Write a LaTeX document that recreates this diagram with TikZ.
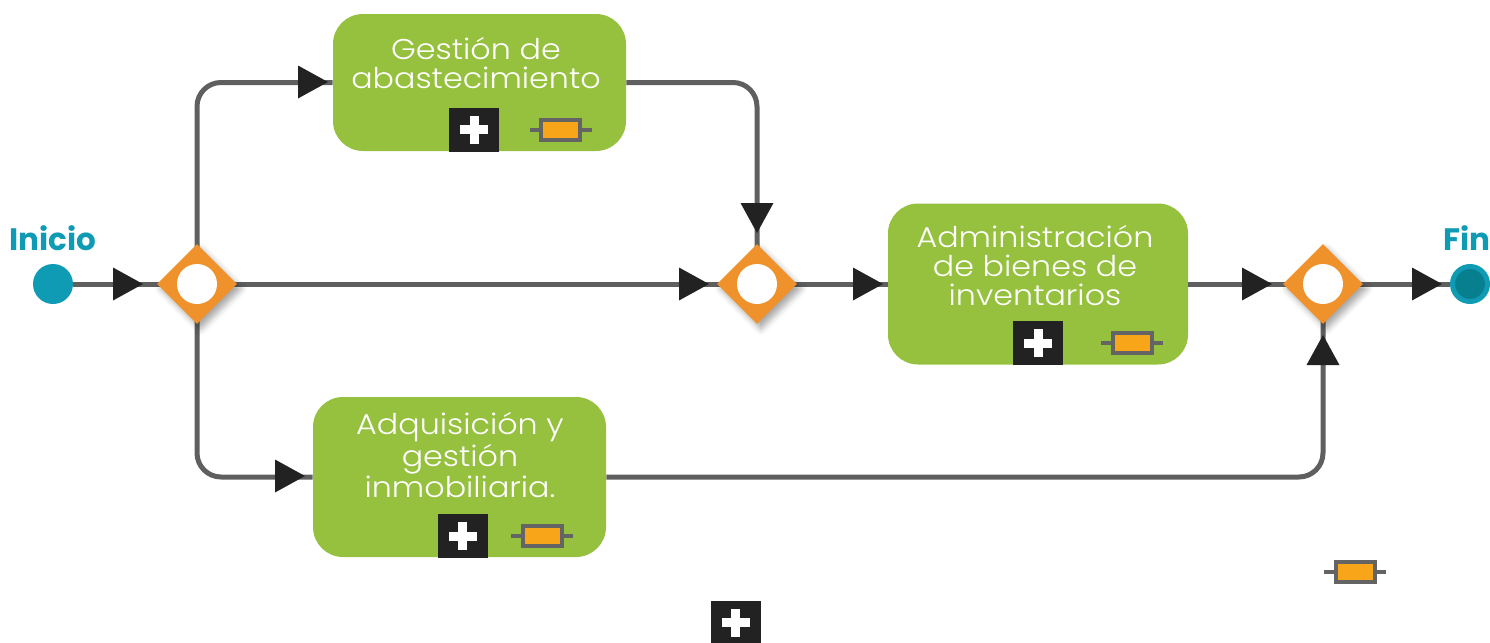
\documentclass[tikz,border=0pt]{standalone}
\usepackage{fontspec}
\setmainfont{Poppins}
\newfontfamily\lightfont{Poppins Light}[FakeStretch=1.11]
\usetikzlibrary{shapes.geometric,shadows.blur}
\definecolor{bpmgreen}{HTML}{96C13E}
\definecolor{bpmteal}{HTML}{0E9BB3}
\definecolor{bpmtealdark}{HTML}{087F8E}
\definecolor{bpmorange}{HTML}{F0922B}
\definecolor{bpmgray}{HTML}{5F5F5F}
\definecolor{bpmblack}{HTML}{222222}
\definecolor{mkorange}{HTML}{F9A51A}
\definecolor{mkgray}{HTML}{646464}
\tikzset{
  flow/.style={draw=bpmgray,line width=2.5pt,rounded corners=12pt},
  startev/.style={circle,fill=bpmteal,minimum size=20pt,inner sep=0pt},
  endev/.style={circle,fill=bpmtealdark,draw=bpmteal,line width=2.5pt,minimum size=17.5pt,inner sep=0pt},
  gw/.style={diamond,aspect=1,fill=bpmorange,minimum width=40pt,minimum height=40pt,inner sep=0pt,
    blur shadow={shadow xshift=2pt,shadow yshift=-2.5pt,shadow blur radius=3pt,shadow opacity=35}},
  gwc/.style={circle,fill=white,minimum size=20pt,inner sep=0pt},
  task/.style={rectangle,rounded corners=15pt,fill=bpmgreen,inner sep=0pt},
  tasktext/.style={text=white,align=center,font=\lightfont\fontsize{14.3}{14.5}\selectfont},
  evlabel/.style={text=bpmteal,font=\bfseries\fontsize{15.5}{17}\selectfont},
  arrowR/.pic={\fill[bpmblack] (0,0) -- (-30,-16.5) -- (-30,16.5) -- cycle;},
  arrowD/.pic={\fill[bpmblack] (0,0) -- (-16.5,-30) -- (16.5,-30) -- cycle;},
  arrowU/.pic={\fill[bpmblack] (0,0) -- (-16.5,30) -- (16.5,30) -- cycle;},
  plusbox/.pic={\fill[bpmblack] (-25,-22) rectangle (25,22);
    \fill[white] (-14,-4.5) rectangle (14,4.5);
    \fill[white] (-4.5,-14) rectangle (4.5,14);},
  marker/.pic={\draw[mkgray,line width=2pt] (-31,0) -- (-21,0) (21,0) -- (31,0);
    \fill[mkgray] (-21.5,-12) rectangle (21.5,12);
    \fill[mkorange] (-17.5,-8) rectangle (17.5,8);}
}
\begin{document}
\begin{tikzpicture}[x=0.5pt,y=-0.5pt]
\useasboundingbox (0,0) rectangle (1490,643);
% events
\node[startev] (ini) at (53,284) {};
\node[endev] (fin) at (1470,284) {};
\node[evlabel] (inilbl) at (53,238) {Inicio};
\node[evlabel] (finlbl) at (1467,238) {Fin};
% tasks
\node[task,minimum width=146.5pt,minimum height=68.5pt] (t1) at (479.5,82.5) {};
\node[task,minimum width=150pt,minimum height=80.5pt] (t3) at (1038,284) {};
\node[task,minimum width=146.5pt,minimum height=80pt] (t2) at (459.5,477) {};
\node[tasktext] (t1txt) at (476,63) {Gestión de\\abastecimiento};
\node[tasktext] (t3txt) at (1035,266) {Administración\\de bienes de\\inventarios};
\node[tasktext] (t2txt) at (460,455) {Adquisición y\\gestión\\inmobiliaria.};
% connectors
\draw[flow] (ini) -- (197,284);
\draw[flow] (197,284) -- (757,284);
\draw[flow] (197,284) |- (t1.west);
\draw[flow] (t1.east) -| (757,284);
\draw[flow] (197,284) |- (t2.west);
\draw[flow] (t2.east) -| (1323,284);
\draw[flow] (757,284) -- (t3.west);
\draw[flow] (t3.east) -- (1323,284);
\draw[flow] (1323,284) -- (fin);
% gateways
\node[gw] (g1) at (197,284) {};
\node[gwc] (g1c) at (g1) {};
\node[gw] (g2) at (757,284) {};
\node[gwc] (g2c) at (g2) {};
\node[gw] (g3) at (1323,284) {};
\node[gwc] (g3c) at (g3) {};
% arrowheads
\pic at (143,284) {arrowR};
\pic at (709,284) {arrowR};
\pic at (883,284) {arrowR};
\pic at (1272,284) {arrowR};
\pic at (1442,284) {arrowR};
\pic at (328,82) {arrowR};
\pic at (305,476) {arrowR};
\pic at (757,233) {arrowD};
\pic at (1323,335) {arrowU};
% icons
\pic at (474,129.5) {plusbox};
\pic at (560.5,130) {marker};
\pic at (1038,343) {plusbox};
\pic at (1132,343) {marker};
\pic at (462.5,536) {plusbox};
\pic at (542,536) {marker};
\pic at (1355,572) {marker};
\pic at (735.5,622.5) {plusbox};
\end{tikzpicture}
\end{document}
